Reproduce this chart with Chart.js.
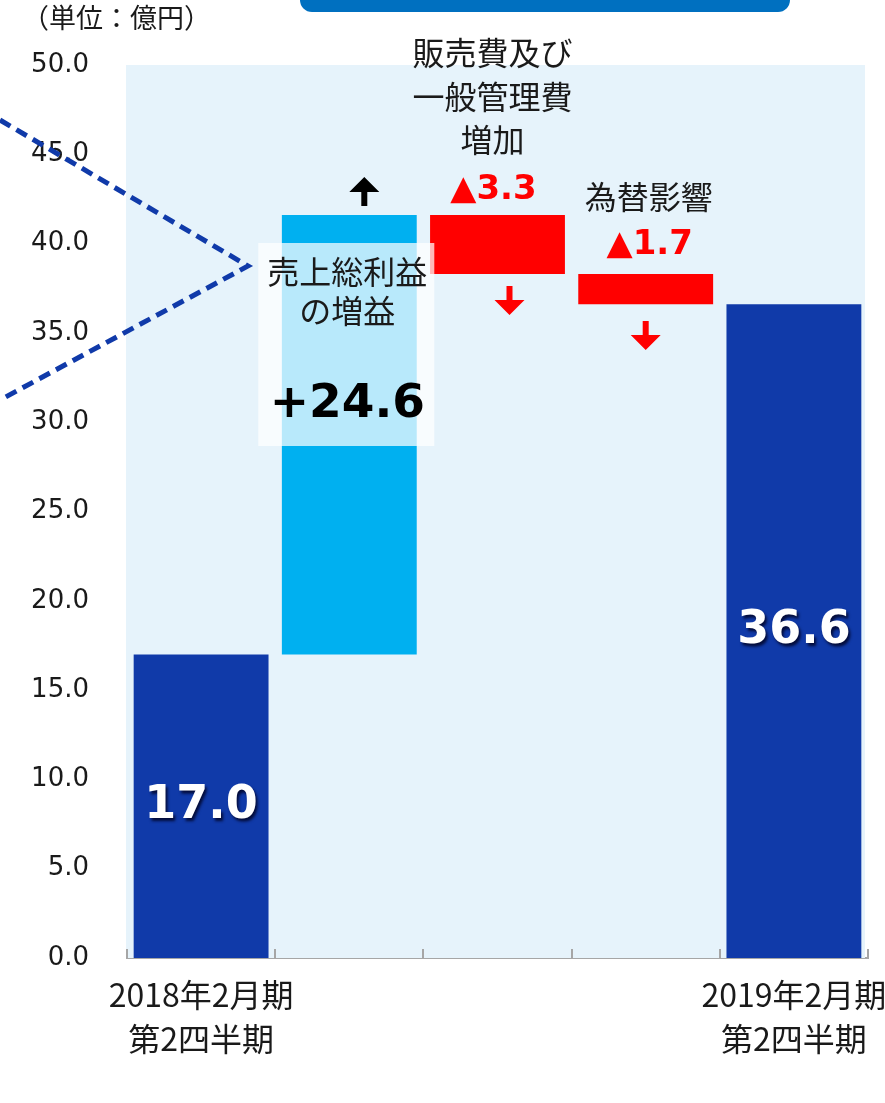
<!DOCTYPE html>
<html>
<head>
<meta charset="utf-8">
<script src="https://cdn.jsdelivr.net/npm/chart.js@4.4.1/dist/chart.umd.min.js"></script>
<style>
  body { margin: 0; background: #fff; }
  #wrap { width: 885px; height: 1103px; }
</style>
</head>
<body>
<div id="wrap"><canvas id="myChart" width="885" height="1103"></canvas></div>
<script>
// waterfall data (億円)
const categories = ['2018年2月期 第2四半期', '売上総利益の増益', '販売費及び一般管理費増加', '為替影響', '2019年2月期 第2四半期'];
const startValue = 17.0;
const changes = [24.6, -3.3, -1.7];
const endValue = 36.6;
const xTickLabels = [['2018年2月期', '第2四半期'], '', '', '', ['2019年2月期', '第2四半期']];
const yMin = 0;
const yMax = 50;
const yStep = 5;

const darkBlue = '#103AA9';
const lightBlue = '#00B0F0';
const red = '#FF0000';

// build floating ranges
let ranges = [[0, startValue]];
let level = startValue;
changes.forEach(c => {
    const next = Math.round((level + c) * 10) / 10;
    ranges.push([level, next]);
    level = next;
});
ranges.push([0, endValue]);

const colors = [darkBlue, lightBlue, red, red, darkBlue];

function drawArrow (ctx, x, y, up, color) {
    // y = tip when up, top of shaft when down
    ctx.fillStyle = color;
    const len = 29, head = 15, hw = 15, sw = 3;
    ctx.beginPath();
    if (up) {
        ctx.moveTo(x, y);
        ctx.lineTo(x + hw, y + head);
        ctx.lineTo(x + sw, y + head);
        ctx.lineTo(x + sw, y + len);
        ctx.lineTo(x - sw, y + len);
        ctx.lineTo(x - sw, y + head);
        ctx.lineTo(x - hw, y + head);
    } else {
        ctx.moveTo(x - sw, y);
        ctx.lineTo(x + sw, y);
        ctx.lineTo(x + sw, y + len - head);
        ctx.lineTo(x + hw, y + len - head);
        ctx.lineTo(x, y + len);
        ctx.lineTo(x - hw, y + len - head);
        ctx.lineTo(x - sw, y + len - head);
    }
    ctx.closePath();
    ctx.fill();
}

const extras = {
    id: 'extras',
    beforeDatasetsDraw (chart) {
        const { ctx, chartArea } = chart;
        ctx.save();
        ctx.fillStyle = '#E6F3FB';
        ctx.fillRect(chartArea.left - 1, chartArea.top, chartArea.right - chartArea.left - 2, chartArea.bottom - chartArea.top);
        ctx.restore();
    },
    afterDatasetsDraw (chart) {
        const { ctx, chartArea } = chart;
        const xs = chart.scales.x;
        const bars = chart.getDatasetMeta(0).data;
        ctx.save();

        // upward ticks on x axis at category boundaries
        ctx.strokeStyle = '#A6A6A6';
        ctx.lineWidth = 2;
        for (let i = 0; i <= categories.length; i++) {
            const x = Math.round(xs.getPixelForValue(i - 0.5));
            ctx.beginPath();
            ctx.moveTo(x, chartArea.bottom);
            ctx.lineTo(x, chartArea.bottom - 9);
            ctx.stroke();
        }

        // bar value labels
        ctx.textAlign = 'center';
        ctx.textBaseline = 'middle';
        ctx.font = 'bold 46px "DejaVu Sans"';
        ctx.fillStyle = '#fff';
        ctx.shadowColor = 'rgba(0,0,30,0.8)';
        ctx.shadowOffsetX = 2;
        ctx.shadowOffsetY = 3;
        ctx.shadowBlur = 3;
        [0, 4].forEach(i => {
            const b = bars[i];
            const v = ranges[i][1];
            ctx.fillText(v.toFixed(1), b.x, (b.y + b.base) / 2);
        });
        ctx.shadowColor = 'transparent';

        // gross profit label box
        const b1 = bars[1];
        ctx.fillStyle = 'rgba(255,255,255,0.72)';
        ctx.fillRect(b1.x - 91, 243, 176, 203);
        ctx.fillStyle = '#1a1a1a';
        ctx.font = '32px "Noto Sans CJK JP"';
        ctx.fillText('売上総利益', b1.x - 2, 272);
        ctx.fillText('の増益', b1.x - 2, 311);
        ctx.fillStyle = '#000';
        ctx.font = 'bold 47px "DejaVu Sans"';
        ctx.fillText('+' + changes[0].toFixed(1), b1.x - 2, 405);
        drawArrow(ctx, b1.x + 15, 177, true, '#000');

        // SG&A
        const b2 = bars[2];
        ctx.fillStyle = '#1a1a1a';
        ctx.font = '32px "Noto Sans CJK JP"';
        ctx.fillText('販売費及び', b2.x - 5, 53);
        ctx.fillText('一般管理費', b2.x - 5, 97);
        ctx.fillText('増加', b2.x - 5, 140);
        ctx.fillStyle = red;
        ctx.font = 'bold 34px "DejaVu Sans"';
        ctx.fillText('▲' + Math.abs(changes[1]).toFixed(1), b2.x - 4, 190);
        drawArrow(ctx, b2.x + 12, 286, false, red);

        // FX
        const b3 = bars[3];
        ctx.fillStyle = '#1a1a1a';
        ctx.font = '32px "Noto Sans CJK JP"';
        ctx.fillText('為替影響', b3.x + 3, 197);
        ctx.fillStyle = red;
        ctx.font = 'bold 34px "DejaVu Sans"';
        ctx.fillText('▲' + Math.abs(changes[2]).toFixed(1), b3.x + 4, 245);
        drawArrow(ctx, b3.x, 321, false, red);

        // unit
        ctx.fillStyle = '#1a1a1a';
        ctx.textAlign = 'left';
        ctx.font = '27px "Noto Sans CJK JP"';
        ctx.fillText('（単位：億円）', 22, 18);

        // blue header strip
        ctx.fillStyle = '#0070C0';
        ctx.beginPath();
        ctx.roundRect(300, -20, 490, 32, 12);
        ctx.fill();

        // dashed callout lines
        ctx.strokeStyle = darkBlue;
        ctx.lineWidth = 5;
        ctx.setLineDash([12, 7]);
        ctx.beginPath();
        ctx.moveTo(0, 120);
        ctx.lineTo(248, 266);
        ctx.lineTo(0, 400);
        ctx.stroke();

        ctx.restore();
    }
};

new Chart(document.getElementById('myChart'), {
    type: 'bar',
    data: {
        labels: categories,
        datasets: [{
            data: ranges,
            backgroundColor: colors,
            borderWidth: 0,
            barPercentage: 0.91,
            categoryPercentage: 1.0
        }]
    },
    options: {
        responsive: false,
        animation: false,
        devicePixelRatio: 1,
        layout: { padding: { top: 65, right: 17, left: 0, bottom: 0 } },
        plugins: {
            legend: { display: false },
            tooltip: { enabled: false }
        },
        scales: {
            x: {
                afterFit: scale => {
                    scale.height = 145;
                    scale.paddingLeft = 0;
                    scale.paddingRight = 0;
                },
                grid: { display: true, drawOnChartArea: false, drawTicks: false },
                border: { display: true, color: '#A6A6A6', width: 2 },
                ticks: {
                    padding: 14,
                    color: '#1a1a1a',
                    font: { family: '"Noto Sans CJK JP"', size: 32, lineHeight: 1.4 },
                    maxRotation: 0,
                    autoSkip: false,
                    callback: (v, i) => xTickLabels[i]
                }
            },
            y: {
                min: yMin,
                max: yMax,
                afterFit: scale => { scale.width = 127; },
                grid: { display: false },
                border: { display: false },
                ticks: {
                    stepSize: yStep,
                    padding: 30,
                    color: '#1a1a1a',
                    font: { family: '"DejaVu Sans"', size: 26 },
                    callback: v => v.toFixed(1)
                }
            }
        }
    },
    plugins: [extras]
});
</script>
</body>
</html>
